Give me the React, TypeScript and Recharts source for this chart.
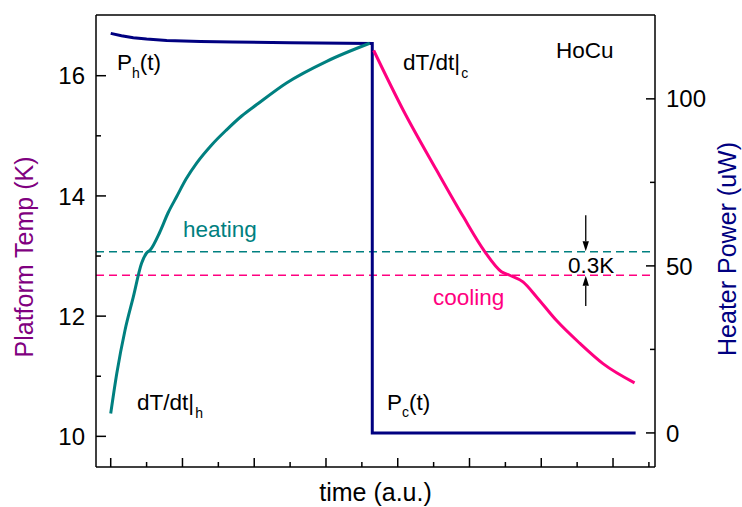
import React from 'react';
import { LineChart, Line, XAxis, YAxis, ReferenceLine } from 'recharts';

// ---- data (time in a.u., temperature in K, power in uW) ----
const heatingTime = [0, 0.17, 0.4, 0.63, 0.86, 1.0, 1.1, 1.37, 1.6, 1.84, 2.1, 2.4, 2.8, 3.23, 3.65, 4.07, 4.9, 6.02, 7.22];
const heatingTemp = [10.38, 11.05, 11.77, 12.32, 12.88, 13.05, 13.1, 13.4, 13.72, 13.99, 14.28, 14.55, 14.84, 15.1, 15.33, 15.52, 15.88, 16.24, 16.54];

const coolingTime = [7.33, 8.15, 9.08, 9.82, 10.43, 10.89, 11.12, 11.49, 11.87, 12.42, 13.07, 13.72, 14.6];
const coolingTemp = [16.42, 15.43, 14.43, 13.66, 13.07, 12.74, 12.68, 12.57, 12.32, 11.93, 11.55, 11.21, 10.89];

const powerTime = [0, 0.3, 0.63, 1.0, 1.56, 2.5, 3.4, 5.0, 7.29, 7.29, 14.63];
const powerValue = [119.6, 118.9, 118.3, 117.9, 117.5, 117.2, 117.0, 116.8, 116.6, 0, 0];

const heatingLevel = 13.07;
const coolingLevel = 12.68;
const arrowTime = 13.24;
const arrowDown = [13.68, 13.08];
const arrowUp = [12.17, 12.67];

const tempMajor = [10, 12, 14, 16];
const tempTicks = [10, 11, 12, 13, 14, 15, 16];
const powerMajor = [0, 50, 100];
const powerTicks = [0, 25, 50, 75, 100];
const timeTicks = [0, 1, 2, 3, 4, 5, 6, 7, 8, 9, 10, 11, 12, 13, 14, 15];

const timeDomain: [number, number] = [-0.41, 15.17];
const tempDomain: [number, number] = [9.49, 17.01];
const powerDomain: [number, number] = [-10.2, 125.1];

const heatingData = heatingTime.map((t, i) => ({ t, v: heatingTemp[i] }));
const coolingData = coolingTime.map((t, i) => ({ t, v: coolingTemp[i] }));
const powerData = powerTime.map((t, i) => ({ t, v: powerValue[i] }));

const TEAL = '#008080';
const PINK = '#FF0080';
const NAVY = '#000080';
const PURPLE = '#800080';
const FONT = '"Liberation Sans", Arial, sans-serif';
const TICK_W = 1.5;

const ArrowShape = (props: any) => {
  const { x1, y1, x2, y2 } = props;
  const dir = Math.sign(y2 - y1) || 1;
  const headLen = 10;
  const half = 3.2;
  const baseY = y2 - dir * headLen;
  return (
    <g>
      <line x1={x1} y1={y1} x2={x2} y2={baseY} stroke="#000" strokeWidth={1.3} />
      <polygon points={`${x2},${y2} ${x2 - half},${baseY} ${x2 + half},${baseY}`} fill="#000" />
    </g>
  );
};

const LeftTick = (props: any) => {
  const { x, y, payload } = props;
  const major = tempMajor.includes(payload.value);
  return (
    <g>
      <line x1={x} y1={y} x2={x + (major ? 10 : 5)} y2={y} stroke="#000" strokeWidth={TICK_W} />
      {major && (
        <text x={x - 11} y={y} dy="0.36em" textAnchor="end" fontSize={24} fontFamily={FONT} fill="#000">
          {payload.value}
        </text>
      )}
    </g>
  );
};

const RightTick = (props: any) => {
  const { x, y, payload } = props;
  const major = powerMajor.includes(payload.value);
  return (
    <g>
      <line x1={x} y1={y} x2={x - (major ? 9 : 5)} y2={y} stroke="#000" strokeWidth={TICK_W} />
      {major && (
        <text x={x + 11} y={y} dy="0.36em" textAnchor="start" fontSize={24} fontFamily={FONT} fill="#000">
          {payload.value}
        </text>
      )}
    </g>
  );
};

const BottomTick = (props: any) => {
  const { x, y, payload } = props;
  const major = payload.value % 2 === 0;
  return <line x1={x} y1={y} x2={x} y2={y - (major ? 9 : 5)} stroke="#000" strokeWidth={TICK_W} />;
};

const TopTick = (props: any) => {
  const { x, y, payload } = props;
  const major = payload.value % 2 === 0;
  return <line x1={x} y1={y} x2={x} y2={y + (major ? 9 : 5)} stroke="#000" strokeWidth={TICK_W} />;
};

const axisLineStyle = { stroke: '#000', strokeWidth: 1.5 };

export default function App() {
  const W = 742;
  const H = 507;
  return (
    <div style={{ position: 'absolute', left: 0, top: 0, width: W, height: H, background: '#fff' }}>
      <LineChart width={W} height={H} margin={{ top: 14, right: 0, bottom: 0, left: 0 }}>
        <XAxis xAxisId="xb" dataKey="t" type="number" domain={timeDomain} allowDataOverflow
          ticks={timeTicks} interval={0} tick={BottomTick} tickLine={false} tickSize={0} tickMargin={0}
          height={40} axisLine={axisLineStyle} />
        <XAxis xAxisId="xt" orientation="top" type="number" domain={timeDomain} allowDataOverflow
          ticks={timeTicks} interval={0} tick={TopTick} tickLine={false} tickSize={0} tickMargin={0}
          height={1} axisLine={axisLineStyle} />

        <YAxis yAxisId="T" type="number" domain={tempDomain} allowDataOverflow width={96}
          ticks={tempTicks} interval={0} tick={LeftTick} tickLine={false} tickSize={0} tickMargin={0}
          axisLine={axisLineStyle} />
        <YAxis yAxisId="P" orientation="right" type="number" domain={powerDomain} allowDataOverflow width={87}
          ticks={powerTicks} interval={0} tick={RightTick} tickLine={false} tickSize={0} tickMargin={0}
          axisLine={axisLineStyle} />

        <ReferenceLine xAxisId="xb" yAxisId="T" y={heatingLevel} stroke={TEAL} strokeWidth={1.5} strokeDasharray="8 5" />
        <ReferenceLine xAxisId="xb" yAxisId="T" y={coolingLevel} stroke={PINK} strokeWidth={1.5} strokeDasharray="8 5" />

        <Line xAxisId="xb" yAxisId="P" data={powerData} dataKey="v" type="linear" stroke={NAVY}
          strokeWidth={3} dot={false} isAnimationActive={false} />
        <Line xAxisId="xb" yAxisId="T" data={heatingData} dataKey="v" type="monotone" stroke={TEAL}
          strokeWidth={3} dot={false} isAnimationActive={false} />
        <Line xAxisId="xb" yAxisId="T" data={coolingData} dataKey="v" type="monotone" stroke={PINK}
          strokeWidth={3} dot={false} isAnimationActive={false} />

        <ReferenceLine xAxisId="xb" yAxisId="T"
          segment={[{ x: arrowTime, y: arrowDown[0] }, { x: arrowTime, y: arrowDown[1] }]}
          shape={ArrowShape} />
        <ReferenceLine xAxisId="xb" yAxisId="T"
          segment={[{ x: arrowTime, y: arrowUp[0] }, { x: arrowTime, y: arrowUp[1] }]}
          shape={ArrowShape} />
      </LineChart>

      <svg width={W} height={H} style={{ position: 'absolute', left: 0, top: 0, pointerEvents: 'none' }}
        fontFamily={FONT}>
        <text x={117} y={70} fontSize={22.5} fill="#000">
          P<tspan fontSize={14} dy={8}>h</tspan><tspan dy={-8}>(t)</tspan>
        </text>
        <text x={137} y={410} fontSize={22.5} fill="#000">
          dT/dt|<tspan fontSize={14} dy={8} dx={1}>h</tspan>
        </text>
        <text x={183} y={237} fontSize={22.5} fill={TEAL}>heating</text>
        <text x={403} y={70} fontSize={22.5} fill="#000">
          dT/dt|<tspan fontSize={14} dy={8} dx={1}>c</tspan>
        </text>
        <text x={556} y={58} fontSize={22.5} fill="#000">HoCu</text>
        <text x={433} y={305} fontSize={22.5} fill={PINK}>cooling</text>
        <text x={568} y={273} fontSize={22.5} fill="#000">0.3K</text>
        <text x={387} y={410} fontSize={22.5} fill="#000">
          P<tspan fontSize={14} dy={7}>c</tspan><tspan dy={-7}>(t)</tspan>
        </text>
        <text x={375.5} y={501} fontSize={25} fill="#000" textAnchor="middle">time (a.u.)</text>
        <text x={33} y={257} fontSize={25} fill={PURPLE} textAnchor="middle" transform="rotate(-90 33 257)">
          Platform Temp (K)
        </text>
        <text x={736} y={249} fontSize={25} fill={NAVY} textAnchor="middle" transform="rotate(-90 736 249)">
          Heater Power (uW)
        </text>
      </svg>
    </div>
  );
}
